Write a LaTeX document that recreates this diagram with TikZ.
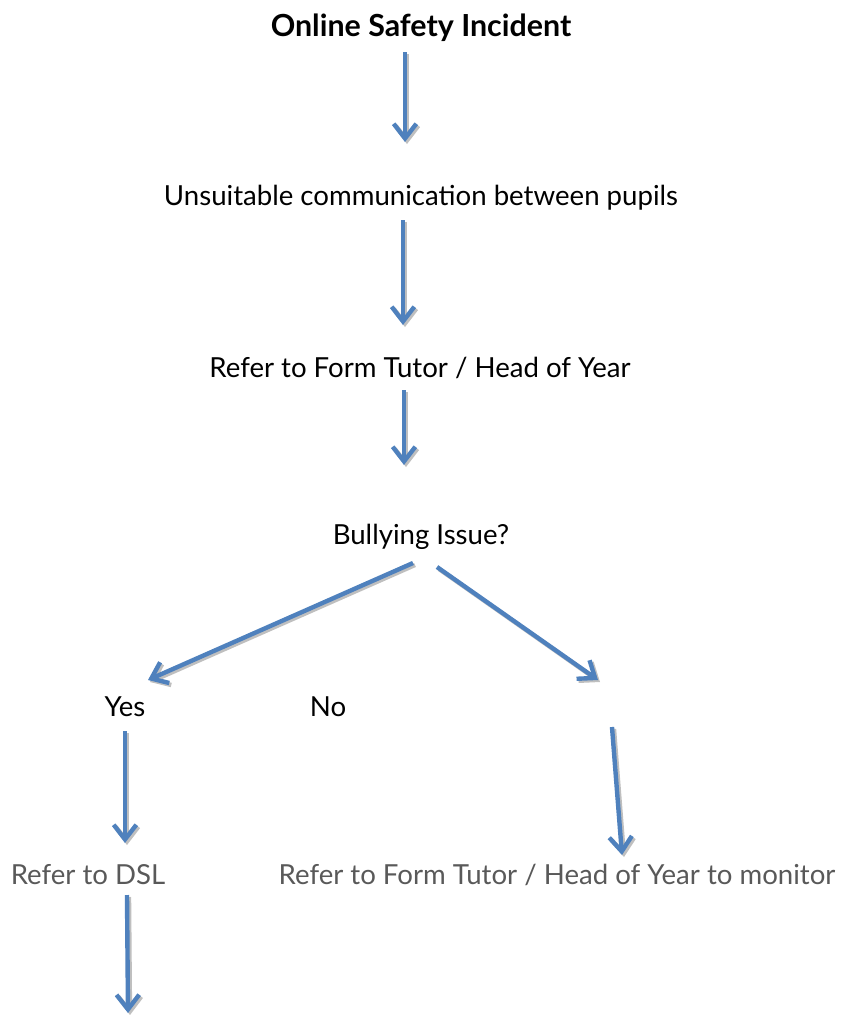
\documentclass[tikz,border=0pt]{standalone}
\usepackage{fontspec}
\setmainfont{Lato}
\usetikzlibrary{arrows.meta}
\definecolor{arrowblue}{HTML}{4F81BD}
\definecolor{labelgray}{HTML}{595959}
\definecolor{shadowgray}{HTML}{BFBFBF}
\tikzset{
  lbl/.style={inner sep=0pt, font=\fontsize{20.7}{24}\selectfont, text=black, anchor=center},
  graylbl/.style={lbl, text=labelgray},
  flowarrow/.style={draw=arrowblue, line width=3.3pt, -{Straight Barb[length=11pt,width=17pt]}},
  flowshadow/.style={draw=shadowgray, line width=3.3pt, -{Straight Barb[length=11pt,width=17pt]}, transform canvas={shift={(1.5pt,-1.5pt)}}},
}
\newcommand{\flow}[2]{%
  \draw[flowshadow] (#1) -- (#2);
  \draw[flowarrow] (#1) -- (#2);}
\begin{document}
\begin{tikzpicture}[x=0.75pt, y=-0.75pt]
\useasboundingbox (0,0) rectangle (845,1015);
% labels
\node[lbl, font=\fontsize{22.8}{26}\selectfont\bfseries] (title) at (421,28) {Online Safety Incident};
\node[lbl] (comm) at (421,198) {Unsuitable communication between pupils};
\node[lbl] (refer) at (420,368) {Refer to Form Tutor / Head of Year};
\node[lbl] (bully) at (421,537) {Bullying Issue?};
\node[lbl] (yes) at (125,707) {Yes};
\node[lbl] (no) at (328,707) {No};
\node[graylbl] (dsl) at (88,875) {Refer to DSL};
\node[graylbl] (monitor) at (557,875) {Refer to Form Tutor / Head of Year to monitor};
% arrow end points
\coordinate (a1s) at (405,52);  \coordinate (a1e) at (405,142);
\coordinate (a2s) at (403,220); \coordinate (a2e) at (403,325);
\coordinate (a3s) at (404,390); \coordinate (a3e) at (404,465);
\coordinate (a4s) at (413,563); \coordinate (a4e) at (148,680);
\coordinate (a5s) at (437,567); \coordinate (a5e) at (598,680);
\coordinate (a6s) at (612,727); \coordinate (a6e) at (622,855);
\coordinate (a7s) at (125,731); \coordinate (a7e) at (125,843);
\coordinate (a8s) at (127,895); \coordinate (a8e) at (128,1013);
\flow{a1s}{a1e}
\flow{a2s}{a2e}
\flow{a3s}{a3e}
\flow{a4s}{a4e}
\flow{a5s}{a5e}
\flow{a6s}{a6e}
\flow{a7s}{a7e}
\flow{a8s}{a8e}
\end{tikzpicture}
\end{document}
